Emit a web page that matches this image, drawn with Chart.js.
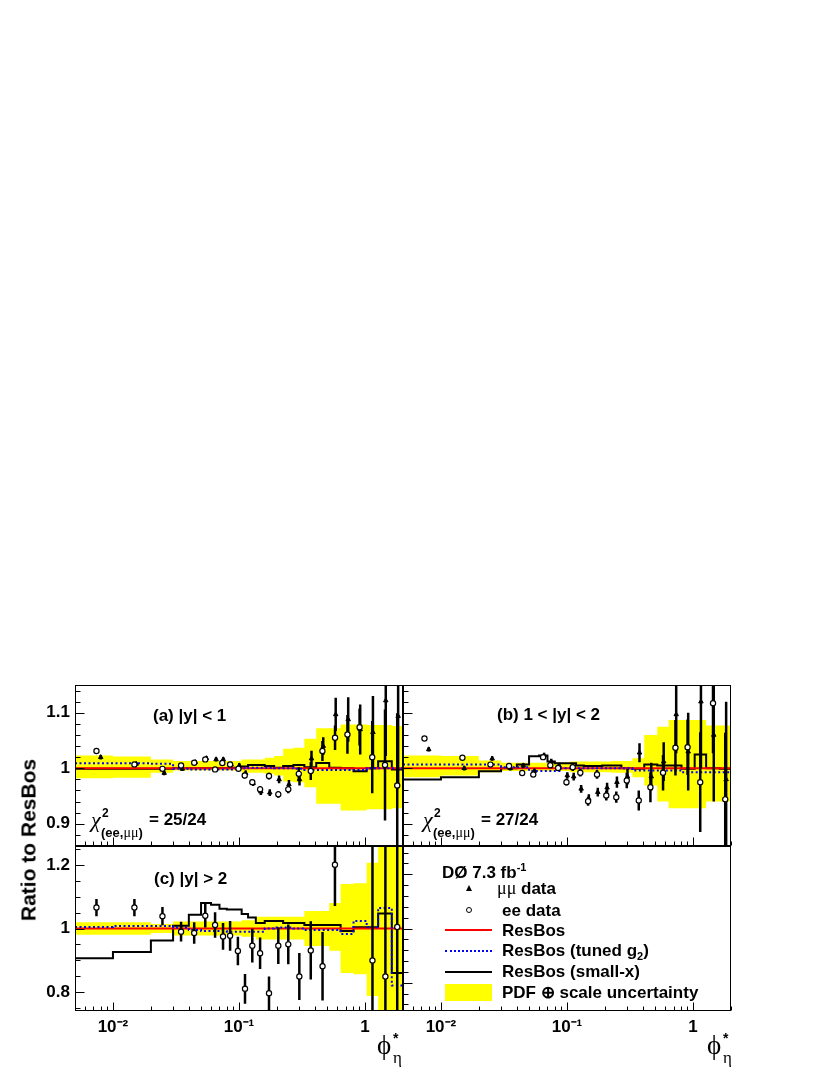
<!DOCTYPE html>
<html>
<head>
<meta charset="utf-8">
<title>phi* ratio to ResBos</title>
<script src="https://cdn.jsdelivr.net/npm/chart.js@4.4.1/dist/chart.umd.min.js"></script>
<style>
  body { margin: 0; background: #fff; }
  #page { position: relative; width: 827px; height: 1070px; overflow: hidden; background: #fff;
          font-family: 'Liberation Sans', Arial, Helvetica, sans-serif; font-weight: bold; color: #000; }
  canvas { position: absolute; }
  .t { position: absolute; white-space: nowrap; line-height: 1; font-size: 17px; }
  .gr { font-family: 'Liberation Serif', 'DejaVu Serif', serif; font-weight: normal; }
  .sw { position: absolute; }
</style>
</head>
<body>
<div id="page">
  <canvas id="panelA" width="410" height="166" style="left:0;top:680px"></canvas>
  <canvas id="panelB" width="335" height="166" style="left:403px;top:680px"></canvas>
  <canvas id="panelC" width="410" height="224" style="left:0;top:846px"></canvas>
  <canvas id="panelD" width="335" height="224" style="left:403px;top:846px"></canvas>

  <div class="t" style="left:28px;top:840px;font-size:21px;transform:translate(-50%,-50%) rotate(-90deg)">Ratio to ResBos</div>

  <div class="t" style="left:153px;top:707px">(a) |y| &lt; 1</div>
  <div class="t" style="left:497px;top:706px">(b) 1 &lt; |y| &lt; 2</div>
  <div class="t" style="left:154px;top:870px">(c) |y| &gt; 2</div>

  <div class="t gr" style="left:91px;top:809px;font-size:22px;font-style:italic">χ</div>
  <div class="t" style="left:102px;top:807px;font-size:12px">2</div>
  <div class="t" style="left:101px;top:826px;font-size:13px">(ee,<span class="gr" style="font-size:14px">μμ</span>)</div>
  <div class="t" style="left:149px;top:811px">= 25/24</div>

  <div class="t gr" style="left:423px;top:809px;font-size:22px;font-style:italic">χ</div>
  <div class="t" style="left:434px;top:807px;font-size:12px">2</div>
  <div class="t" style="left:433px;top:826px;font-size:13px">(ee,<span class="gr" style="font-size:14px">μμ</span>)</div>
  <div class="t" style="left:481px;top:811px">= 27/24</div>

  <div class="t gr" style="left:377px;top:1032px;font-size:27px">ϕ</div>
  <div class="t" style="left:393px;top:1031px;font-size:14px">*</div>
  <div class="t gr" style="left:393px;top:1049px;font-size:17px">η</div>
  <div class="t gr" style="left:707px;top:1032px;font-size:27px">ϕ</div>
  <div class="t" style="left:723px;top:1031px;font-size:14px">*</div>
  <div class="t gr" style="left:723px;top:1049px;font-size:17px">η</div>

  <div class="t" style="left:442px;top:864px">DØ 7.3 fb<span style="font-size:11px;position:relative;top:-7px">-1</span></div>
  <div class="sw" style="left:466px;top:885px;width:0;height:0;border-left:3px solid transparent;border-right:3px solid transparent;border-bottom:6px solid #000"></div>
  <div class="t" style="left:497px;top:879px"><span class="gr" style="font-size:18px">μμ</span> data</div>
  <div class="sw" style="left:466px;top:907px;width:4px;height:4px;border:1.2px solid #000;border-radius:50%;background:#fff"></div>
  <div class="t" style="left:502px;top:902px">ee data</div>
  <div class="sw" style="left:445px;top:929px;width:47px;height:2px;background:#f00"></div>
  <div class="t" style="left:502px;top:922px">ResBos</div>
  <div class="sw" style="left:445px;top:950px;width:47px;height:0;border-top:2px dotted #00f"></div>
  <div class="t" style="left:502px;top:942px">ResBos (tuned g<span style="font-size:11px;position:relative;top:4px">2</span>)</div>
  <div class="sw" style="left:445px;top:971px;width:47px;height:2px;background:#000"></div>
  <div class="t" style="left:502px;top:963px">ResBos (small-x)</div>
  <div class="sw" style="left:445px;top:984px;width:47px;height:17px;background:#ff0"></div>
  <div class="t" style="left:502px;top:984px">PDF ⊕ scale uncertainty</div>
</div>

<script>
// phi*_eta bin edges of the theory histograms
const phiEdges = [0.005, 0.01, 0.02, 0.03, 0.04, 0.05, 0.06, 0.07, 0.08, 0.09, 0.105, 0.118, 0.136,
                  0.16, 0.19, 0.224, 0.27, 0.33, 0.41, 0.52, 0.64, 0.81, 1.03, 1.27, 1.63, 2.0];

// data points, |y| < 1 and 1 < |y| < 2
const xEe = [0.0074, 0.0148, 0.0247, 0.0347, 0.0441, 0.054, 0.0646, 0.0737, 0.085, 0.099, 0.111, 0.1275, 0.147,
             0.173, 0.205, 0.246, 0.298, 0.371, 0.459, 0.578, 0.725, 0.905, 1.14, 1.44, 1.80];
const xMu = [0.0080, 0.0153, 0.0255, 0.0355, 0.0450, 0.0551, 0.0658, 0.0750, 0.0865, 0.1005, 0.113, 0.1295, 0.149,
             0.1755, 0.208, 0.249, 0.302, 0.376, 0.466, 0.585, 0.735, 0.915, 1.155, 1.46, 1.83];

const aEe    = [1.031, 1.007, 0.999, 1.005, 1.010, 1.016, 0.998, 1.0095, 1.007, 0.999, 0.987, 0.975, 0.962,
                0.986, 0.953, 0.962, 0.990, 0.995, 1.031, 1.055, 1.061, 1.074, 1.020, 1.006, 0.969];
const aEeErr = [0.004, 0.003, 0.004, 0.004, 0.004, 0.004, 0.004, 0.004, 0.004, 0.004, 0.005, 0.005, 0.006,
                0.006, 0.006, 0.007, 0.012, 0.016, 0.018, 0.022, 0.035, 0.033, 0.065, 0.10, 0.13];
const aMu    = [1.020, 1.008, 0.9915, 0.999, 1.011, 1.018, 1.016, 1.016, 1.007, 1.005, 0.991, 0.973, 0.958,
                0.956, 0.980, 0.971, 0.980, 1.0175, 1.040, 1.097, 1.088, 1.070, 1.065, 1.122, 1.094];
const aMuErr = [0.004, 0.003, 0.004, 0.004, 0.004, 0.004, 0.004, 0.004, 0.004, 0.004, 0.005, 0.005, 0.006,
                0.006, 0.007, 0.008, 0.011, 0.014, 0.016, 0.030, 0.040, 0.045, 0.065, 0.10, 0.13];

const bEe    = [1.0535, 1.019, 1.0066, 1.004, 0.9916, 0.9886, 1.020, 1.0054, 1.0006, 0.975, 1.002, 0.992, 0.9405,
                0.989, 0.951, 0.948, 0.978, 0.942, 0.966, 0.992, 1.037, 1.038, 0.975, 1.117, 0.944];
const bEeErr = [0.004, 0.004, 0.004, 0.004, 0.004, 0.004, 0.005, 0.005, 0.005, 0.006, 0.007, 0.007, 0.008,
                0.008, 0.009, 0.010, 0.014, 0.018, 0.027, 0.032, 0.050, 0.050, 0.090, 0.090, 0.12];
const bMu    = [1.034, 1.000, 1.0175, 1.000, 1.005, 0.995, 1.023, 1.012, 1.005, 0.987, 0.985, 0.963, 0.945,
                0.957, 0.965, 0.975, 0.985, 1.028, 0.985, 1.012, 1.097, 1.030, 1.120, 1.060, 0.980];
const bMuErr = [0.004, 0.004, 0.004, 0.004, 0.004, 0.004, 0.005, 0.005, 0.005, 0.006, 0.007, 0.007, 0.008,
                0.008, 0.009, 0.010, 0.014, 0.017, 0.025, 0.035, 0.070, 0.070, 0.12, 0.12, 0.14];

// |y| > 2, electrons only
const xEeC   = [0.0074, 0.0148, 0.0247, 0.0347, 0.0441, 0.054, 0.0646, 0.0747, 0.085, 0.098, 0.1116, 0.1275,
                0.147, 0.173, 0.205, 0.246, 0.301, 0.371, 0.46, 0.577, 1.145, 1.45, 1.80];
const cEe    = [1.066, 1.066, 1.039, 0.990, 0.986, 1.040, 1.011, 0.975, 0.977, 0.929, 0.810, 0.946,
                0.922, 0.796, 0.946, 0.950, 0.849, 0.931, 0.881, 1.201, 0.899, 0.849, 1.005];
const cEeErr = [0.027, 0.027, 0.029, 0.031, 0.034, 0.037, 0.040, 0.042, 0.047, 0.045, 0.047, 0.053,
                0.050, 0.053, 0.058, 0.063, 0.074, 0.092, 0.108, 0.13, 0.40, 0.45, 0.45];

// theory, one value per bin
const aBandLo = [0.982, 0.983, 0.992, 0.996, 0.996, 0.996, 0.996, 0.996, 0.996, 0.996, 0.992, 0.992, 0.992,
                 0.990, 0.987, 0.976, 0.975, 0.966, 0.936, 0.936, 0.924, 0.924, 0.926, 0.926, 0.928];
const aBandHi = [1.023, 1.021, 1.016, 1.013, 1.013, 1.013, 1.013, 1.013, 1.013, 1.013, 1.016, 1.016, 1.016,
                 1.019, 1.022, 1.035, 1.037, 1.053, 1.072, 1.072, 1.079, 1.079, 1.078, 1.078, 1.076];
const aTuned  = [1.009, 1.009, 1.008, 0.999, 0.998, 0.998, 0.998, 0.998, 0.998, 0.999, 1.000, 1.001, 1.001,
                 1.001, 1.000, 1.000, 0.999, 0.997, 0.997, 0.997, 0.997, 0.997, 1.000, 1.000, 1.000];
const aSmallX = [0.999, 0.999, 0.999, 1.000, 1.000, 1.000, 1.000, 1.000, 1.000, 1.001, 1.003, 1.006, 1.006,
                 1.004, 1.001, 1.004, 1.006, 1.002, 1.0095, 1.001, 1.000, 0.9946, 1.000, 1.0126, 0.9976];

const bBandLo = [0.984, 0.987, 0.993, 0.995, 0.995, 0.995, 0.995, 0.995, 0.995, 0.995, 0.993, 0.993, 0.993,
                 0.993, 0.993, 0.992, 0.992, 0.984, 0.969, 0.940, 0.928, 0.928, 0.928, 0.940, 0.940];
const bBandHi = [1.023, 1.022, 1.014, 1.010, 1.010, 1.010, 1.010, 1.010, 1.010, 1.010, 1.012, 1.012, 1.012,
                 1.012, 1.012, 1.013, 1.013, 1.018, 1.060, 1.075, 1.087, 1.087, 1.087, 1.077, 1.077];
const bTuned  = [1.007, 1.007, 1.007, 1.002, 1.002, 0.995, 0.995, 0.995, 0.995, 1.000, 1.000, 1.000, 1.000,
                 1.000, 1.000, 1.000, 1.000, 0.996, 0.996, 0.996, 0.996, 0.993, 0.993, 0.993, 0.993];
const bSmallX = [0.980, 0.984, 0.9946, 1.000, 1.007, 1.0216, 1.023, 1.012, 1.009, 1.009, 1.009, 1.005, 1.004,
                 1.004, 1.005, 1.005, 1.000, 0.999, 1.007, 1.005, 1.005, 0.999, 1.0246, 1.000, 0.999];

const cBandLo = [0.980, 0.980, 0.986, 0.978, 0.978, 0.978, 0.978, 0.978, 0.978, 0.978, 0.974, 0.974, 0.965,
                 0.965, 0.965, 0.965, 0.965, 0.945, 0.945, 0.930, 0.860, 0.856, 0.787, 0.600, 0.600];
const cBandHi = [1.020, 1.020, 1.014, 1.022, 1.022, 1.022, 1.022, 1.022, 1.022, 1.022, 1.026, 1.026, 1.037,
                 1.037, 1.037, 1.037, 1.037, 1.055, 1.055, 1.080, 1.140, 1.143, 1.207, 1.400, 1.400];
const cTuned  = [1.005, 1.008, 1.008, 1.003, 0.995, 0.992, 0.992, 0.992, 0.990, 0.990, 0.990, 0.990, 0.990,
                 1.000, 1.003, 1.003, 1.000, 0.995, 0.995, 0.995, 0.983, 1.024, 1.004, 1.065, 0.820];
const cSmallX = [0.906, 0.926, 0.962, 1.009, 1.043, 1.080, 1.075, 1.062, 1.060, 1.060, 1.046, 1.035, 1.017,
                 1.024, 1.024, 1.017, 1.017, 1.011, 1.011, 1.011, 0.992, 1.004, 1.004, 1.047, 0.860];

const resbosX = [0.005, 2.0];
const resbosY = [1, 1];

const xTickVals = [0.01, 0.1, 1];
const xTickText = ['10⁻²', '10⁻¹', '1'];
const yTicksTop = [0.9, 1, 1.1];
const yTicksBottom = [0.8, 1, 1.2];

function steps(edges, vals) {
  const pts = vals.map((v, i) => ({ x: edges[i], y: v }));
  pts.push({ x: edges[edges.length - 1], y: vals[vals.length - 1] });
  return pts;
}
function errBars(xs, ys, es) {
  const pts = [];
  xs.forEach((x, i) => {
    pts.push({ x: x, y: ys[i] - es[i] }, { x: x, y: ys[i] + es[i] }, { x: x, y: null });
  });
  return pts;
}
function points(xs, ys) {
  return xs.map((x, i) => ({ x: x, y: ys[i] }));
}

// ROOT style frame with inward ticks on the left and bottom
const rootAxes = {
  id: 'rootAxes',
  afterDatasetsDraw(chart, args, opts) {
    const ctx = chart.ctx, a = chart.chartArea;
    const xs = chart.scales.x, ys = chart.scales.y;
    const left = Math.round(a.left) + 0.5, right = Math.round(a.right) - 0.5;
    const top = Math.round(a.top) + 0.5, bottom = Math.round(a.bottom) - 0.5;
    ctx.save();
    ctx.strokeStyle = '#000';
    ctx.lineWidth = 1;
    ctx.beginPath();
    for (let e = -3; e <= 0; e++) {
      for (let m = 1; m <= 9; m++) {
        const v = m * Math.pow(10, e);
        if (v < xs.min * 0.999 || v > xs.max * 1.001) continue;
        const px = Math.round(xs.getPixelForValue(v)) + 0.5;
        ctx.moveTo(px, bottom);
        ctx.lineTo(px, bottom - (m === 1 ? 8 : 4));
      }
    }
    const k0 = Math.ceil(ys.min / opts.yStep - 1e-6), k1 = Math.floor(ys.max / opts.yStep + 1e-6);
    for (let k = k0; k <= k1; k++) {
      const v = k * opts.yStep;
      const r = v / opts.yMajor;
      const major = Math.abs(r - Math.round(r)) < 1e-6;
      const py = Math.round(ys.getPixelForValue(v)) + 0.5;
      ctx.moveTo(left, py);
      ctx.lineTo(left + (major ? 9 : 5), py);
    }
    ctx.stroke();
    ctx.strokeRect(left, top, right - left, bottom - top);
    ctx.restore();
  }
};

const tickFont = { family: "'Liberation Sans', Arial, sans-serif", weight: 'bold', size: 17 };

function makePanel(id, o) {
  const ds = [];
  if (o.bandLo) {
    ds.push({ data: steps(phiEdges, o.bandLo), stepped: 'before', borderColor: 'rgba(0,0,0,0)', borderWidth: 0,
              pointRadius: 0, fill: false, order: 10, clip: 0 });
    ds.push({ data: steps(phiEdges, o.bandHi), stepped: 'before', borderColor: 'rgba(0,0,0,0)', borderWidth: 0,
              pointRadius: 0, fill: '-1', backgroundColor: '#ffff00', order: 10, clip: 0 });
    ds.push({ data: steps(phiEdges, o.smallx), stepped: 'before', borderColor: '#000', borderWidth: 2,
              pointRadius: 0, fill: false, order: 7, clip: 0 });
    ds.push({ data: points(resbosX, resbosY), borderColor: '#ff0000', borderWidth: 2,
              pointRadius: 0, fill: false, order: 6, clip: 0 });
    ds.push({ data: steps(phiEdges, o.tuned), stepped: 'before', borderColor: '#0000ff', borderWidth: 2,
              borderDash: [2, 2.5], pointRadius: 0, fill: false, order: 5, clip: 0 });
  }
  if (o.mu) {
    ds.push({ data: errBars(xMu, o.mu, o.muErr), borderColor: '#000', borderWidth: 2.5, pointRadius: 0,
              spanGaps: false, fill: false, order: 3, clip: 0 });
    ds.push({ data: points(xMu, o.mu), showLine: false, pointStyle: 'triangle', pointRadius: 2.6,
              pointBackgroundColor: '#000', pointBorderColor: '#000', pointBorderWidth: 1, order: 2, clip: 0 });
  }
  if (o.ee) {
    ds.push({ data: errBars(o.eeX, o.ee, o.eeErr), borderColor: '#000', borderWidth: 2.5, pointRadius: 0,
              spanGaps: false, fill: false, order: 3, clip: 0 });
    ds.push({ data: points(o.eeX, o.ee), showLine: false, pointStyle: 'circle', pointRadius: 2.6,
              pointBackgroundColor: '#fff', pointBorderColor: '#000', pointBorderWidth: 1.2, order: 1, clip: 0 });
  }

  new Chart(document.getElementById(id), {
    type: 'line',
    data: { datasets: ds },
    plugins: [rootAxes],
    options: {
      responsive: false,
      animation: false,
      devicePixelRatio: 1,
      events: [],
      layout: { padding: { top: o.padTop, right: 7, left: 0, bottom: 0 }, autoPadding: false },
      plugins: {
        legend: { display: false },
        tooltip: { enabled: false },
        rootAxes: { yStep: o.yStep, yMajor: o.yMajor }
      },
      scales: {
        x: {
          type: 'logarithmic', min: 0.005, max: 2,
          display: o.xLabels,
          grid: { display: false, drawTicks: false },
          border: { display: false },
          afterBuildTicks: s => { s.ticks = xTickVals.map(v => ({ value: v })); },
          afterFit: s => {
            s.height = o.xLabels ? 59 : 0;
            s.paddingLeft = 0; s.paddingRight = 0;
          },
          ticks: { font: tickFont, color: '#000', padding: 6, autoSkip: false, maxRotation: 0, minRotation: 0,
                   callback: v => xTickText[xTickVals.indexOf(v)] }
        },
        y: {
          type: 'linear', min: o.yMin, max: o.yMax,
          display: !!o.yLabels,
          grid: { display: false, drawTicks: false },
          border: { display: false },
          afterBuildTicks: s => { if (o.yLabels) s.ticks = o.yLabels.map(v => ({ value: v })); },
          afterFit: s => {
            s.width = o.yLabels ? 75 : 0;
            s.paddingTop = 0; s.paddingBottom = 0;
          },
          ticks: { font: tickFont, color: '#000', padding: 5, callback: v => String(v) }
        }
      }
    }
  });
}

makePanel('panelA', { padTop: 5, yMin: 0.86, yMax: 1.15, yStep: 0.02, yMajor: 0.1, yLabels: yTicksTop, xLabels: false,
  bandLo: aBandLo, bandHi: aBandHi, tuned: aTuned, smallx: aSmallX,
  mu: aMu, muErr: aMuErr, eeX: xEe, ee: aEe, eeErr: aEeErr });
makePanel('panelB', { padTop: 5, yMin: 0.86, yMax: 1.15, yStep: 0.02, yMajor: 0.1, yLabels: null, xLabels: false,
  bandLo: bBandLo, bandHi: bBandHi, tuned: bTuned, smallx: bSmallX,
  mu: bMu, muErr: bMuErr, eeX: xEe, ee: bEe, eeErr: bEeErr });
makePanel('panelC', { padTop: 0, yMin: 0.74, yMax: 1.26, yStep: 0.05, yMajor: 0.2, yLabels: yTicksBottom, xLabels: true,
  bandLo: cBandLo, bandHi: cBandHi, tuned: cTuned, smallx: cSmallX,
  eeX: xEeC, ee: cEe, eeErr: cEeErr });
makePanel('panelD', { padTop: 0, yMin: -7.6, yMax: 7.6, yStep: 1, yMajor: 5, yLabels: null, xLabels: true });
</script>
</body>
</html>
